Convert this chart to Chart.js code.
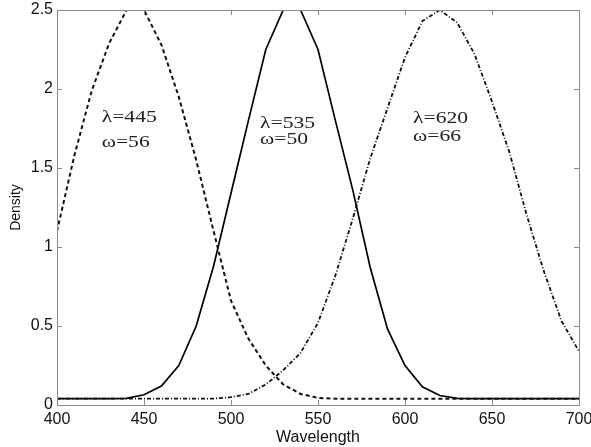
<!DOCTYPE html>
<html lang="en">
<head>
  <meta charset="UTF-8">
  <title>Density vs Wavelength</title>
  <script src="https://cdn.jsdelivr.net/npm/chart.js"></script>
  <style>
    html, body { margin: 0; padding: 0; background: #fff; }
    #wrap { width: 591px; height: 447px; }
  </style>
</head>
<body>
  <div id="wrap"><canvas id="densityChart"></canvas></div>

  <script>
    // wavelengths sampled every 10 nm
    const wavelengths = [400, 410, 420, 430, 440, 450, 460, 470, 480, 490, 500, 510, 520, 530, 540, 550,
                         560, 570, 580, 590, 600, 610, 620, 630, 640, 650, 660, 670, 680, 690, 700];

    // lambda=445 (dashed)
    const blueCurve = [1.10, 1.58, 1.99, 2.29, 2.50, 2.50, 2.28, 1.95, 1.55, 1.10, 0.66, 0.42, 0.25, 0.13, 0.07, 0.045,
                       0.04, 0.04, 0.04, 0.04, 0.04, 0.04, 0.04, 0.04, 0.04, 0.04, 0.04, 0.04, 0.04, 0.04, 0.04];
    // lambda=535 (solid)
    const greenCurve = [0.04, 0.04, 0.04, 0.04, 0.042, 0.065, 0.12, 0.25, 0.50, 0.88, 1.34, 1.80, 2.25, 2.50, 2.50, 2.25,
                        1.80, 1.36, 0.87, 0.48, 0.25, 0.115, 0.06, 0.042, 0.04, 0.04, 0.04, 0.04, 0.04, 0.04, 0.04];
    // lambda=620 (dash-dot)
    const redCurve = [0.04, 0.04, 0.04, 0.04, 0.04, 0.04, 0.04, 0.04, 0.04, 0.04, 0.05, 0.07, 0.13, 0.22, 0.33, 0.52,
                      0.82, 1.18, 1.56, 1.88, 2.20, 2.43, 2.50, 2.42, 2.22, 1.92, 1.60, 1.20, 0.84, 0.53, 0.34];

    // text annotations: [x (nm), y (density), text]
    const notes = [
      [425.7, 1.82, 'λ=445'], [425.7, 1.66, 'ω=56'],
      [516.7, 1.78, 'λ=535'], [516.7, 1.68, 'ω=50'],
      [604.6, 1.81, 'λ=620'], [604.6, 1.70, 'ω=66']
    ];

    const toPoints = ys => wavelengths.map((x, i) => ({ x, y: ys[i] }));

    const boxColor = '#8a8a8a';
    const sans = '"Liberation Sans", Arial, sans-serif';

    // matlab-like box with inward ticks, plus the text labels
    const matlabBox = {
      id: 'matlabBox',
      afterDatasetsDraw(chart) {
        const { ctx, chartArea: a, scales: { x, y } } = chart;
        ctx.save();
        ctx.strokeStyle = boxColor;
        ctx.lineWidth = 1;
        ctx.strokeRect(a.left + 0.5, a.top + 0.5, a.right - a.left, a.bottom - a.top);
        ctx.beginPath();
        x.ticks.forEach(t => {
          const px = Math.round(x.getPixelForValue(t.value)) + 0.5;
          ctx.moveTo(px, a.bottom); ctx.lineTo(px, a.bottom - 5);
          ctx.moveTo(px, a.top); ctx.lineTo(px, a.top + 5);
        });
        y.ticks.forEach(t => {
          const py = Math.round(y.getPixelForValue(t.value)) + 0.5;
          ctx.moveTo(a.left, py); ctx.lineTo(a.left + 5, py);
          ctx.moveTo(a.right, py); ctx.lineTo(a.right - 5, py);
        });
        ctx.stroke();

        // the serif labels in the original look horizontally stretched
        ctx.fillStyle = '#222';
        ctx.font = '16px "Liberation Serif", "DejaVu Serif", serif';
        ctx.textBaseline = 'middle';
        ctx.textAlign = 'left';
        notes.forEach(([nx, ny, txt]) => {
          ctx.save();
          ctx.translate(x.getPixelForValue(nx), y.getPixelForValue(ny));
          ctx.scale(1.35, 1);
          ctx.fillText(txt, 0, 0);
          ctx.restore();
        });
        ctx.restore();
      }
    };

    new Chart(document.getElementById('densityChart'), {
      type: 'line',
      data: {
        datasets: [
          {
            label: 'λ=445',
            data: toPoints(blueCurve),
            borderColor: '#111',
            borderWidth: 2,
            borderDash: [4, 3],
            pointRadius: 0,
            tension: 0,
            fill: false
          },
          {
            label: 'λ=620',
            data: toPoints(redCurve),
            borderColor: '#111',
            borderWidth: 1.8,
            borderDash: [4, 2, 1, 2],
            pointRadius: 0,
            tension: 0,
            fill: false
          },
          {
            label: 'λ=535',
            data: toPoints(greenCurve),
            borderColor: '#000',
            borderWidth: 1.7,
            pointRadius: 0,
            tension: 0,
            fill: false
          }
        ]
      },
      options: {
        responsive: true,
        maintainAspectRatio: false,
        animation: false,
        layout: { padding: { top: 10, right: 12, left: 0, bottom: 0 } },
        plugins: {
          legend: { display: false },
          tooltip: { enabled: false }
        },
        scales: {
          x: {
            type: 'linear',
            min: 400,
            max: 700,
            afterFit(scale) {
              scale.height = 42;
              // let the end labels hang over like in the original
              scale.paddingLeft = 0;
              scale.paddingRight = 0;
            },
            border: { display: false },
            grid: { display: false, drawTicks: false },
            ticks: {
              stepSize: 50,
              padding: 5,
              color: '#111',
              font: { family: sans, size: 16 }
            },
            title: {
              display: true,
              text: 'Wavelength',
              color: '#111',
              padding: { top: -4, bottom: 0 },
              font: { family: sans, size: 16 }
            }
          },
          y: {
            min: 0,
            max: 2.5,
            afterFit(scale) {
              scale.width = 57;
              scale.paddingTop = 0;
              scale.paddingBottom = 0;
            },
            border: { display: false },
            grid: { display: false, drawTicks: false },
            ticks: {
              stepSize: 0.5,
              padding: 4,
              color: '#111',
              font: { family: sans, size: 16 },
              callback: v => String(v)
            },
            title: {
              display: true,
              text: 'Density',
              color: '#111',
              padding: { top: 8, bottom: 0 },
              font: { family: sans, size: 14 }
            }
          }
        }
      },
      plugins: [matlabBox]
    });
  </script>
</body>
</html>
